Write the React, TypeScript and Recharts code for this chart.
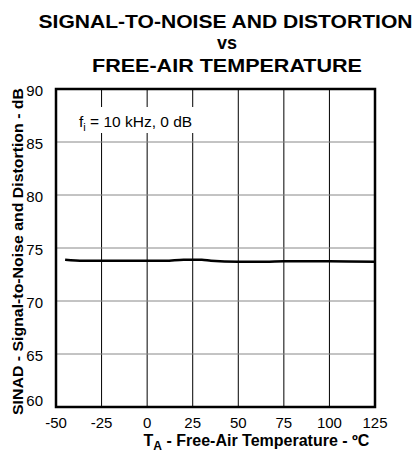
import React from "react";
import { LineChart, Line, XAxis, YAxis, CartesianGrid, ReferenceLine } from "recharts";

const temps = [-45, -35, -25, -10, 0, 10, 20, 30, 35, 50, 65, 75, 100, 125];
const sinad = [73.9, 73.8, 73.8, 73.8, 73.8, 73.8, 73.9, 73.9, 73.8, 73.7, 73.7, 73.75, 73.75, 73.7];
const xTicks = [-50, -25, 0, 25, 50, 75, 100, 125];
const yTicks = [60, 65, 70, 75, 80, 85, 90];
const hGrid = [65, 70, 75, 80, 85];

const data = temps.map((t, i) => ({ t, v: sinad[i] }));

const FONT = "'Liberation Sans', Arial, Helvetica, sans-serif";

function YTick(props: any) {
  const { x, y, payload } = props;
  const off = payload.value === 60 ? -1 : 7;
  return (
    <text x={x} y={y + off} textAnchor="end" fontFamily={FONT} fontSize={15} fill="#000">
      {payload.value}
    </text>
  );
}

function XTick(props: any) {
  const { x, y, payload } = props;
  return (
    <text x={x} y={428} textAnchor="middle" fontFamily={FONT} fontSize={15} fill="#000">
      {payload.value}
    </text>
  );
}

export default function App() {
  return (
    <div style={{ position: "absolute", left: 0, top: 0, width: 419, height: 452, background: "#fff", fontFamily: FONT }}>
      <svg width={419} height={452} style={{ position: "absolute", left: 0, top: 0 }}>
        <g fontFamily={FONT} fontWeight="bold" textAnchor="middle" fill="#000">
          <text x={225.5} y={28} fontSize={19} textLength={374} lengthAdjust="spacingAndGlyphs">
            SIGNAL-TO-NOISE AND DISTORTION
          </text>
          <text x={227} y={48.5} fontSize={18}>vs</text>
          <text x={227} y={71.5} fontSize={19} textLength={270} lengthAdjust="spacingAndGlyphs">
            FREE-AIR TEMPERATURE
          </text>
        </g>
      </svg>
      <div style={{ position: "absolute", left: 0, top: 0 }}>
        <LineChart width={419} height={452} data={data} margin={{ top: 89, right: 44, bottom: 15, left: 20 }}>
          <CartesianGrid horizontal={false} vertical={true} stroke="#000" strokeWidth={1} />
          {hGrid.map((y) => (
            <ReferenceLine key={y} y={y} stroke="#888" strokeWidth={1} />
          ))}
          <XAxis
            dataKey="t"
            type="number"
            domain={[-50, 125]}
            ticks={xTicks}
            height={30}
            axisLine={false}
            tickLine={false}
            tick={<XTick />}
            interval={0}
          />
          <YAxis
            type="number"
            domain={[60, 90]}
            ticks={yTicks}
            width={36}
            axisLine={false}
            tickLine={false}
            tickMargin={7}
            tick={<YTick />}
            interval={0}
          />
          <Line type="monotone" dataKey="v" stroke="#000" strokeWidth={2.5} dot={false} isAnimationActive={false} />
        </LineChart>
      </div>
      <svg width={419} height={452} style={{ position: "absolute", left: 0, top: 0, pointerEvents: "none" }}>
        <rect x={56} y={89} width={319} height={318} fill="none" stroke="#000" strokeWidth={2.5} />
        <rect x={72} y={107} width={134} height={26} fill="#fff" />
        <text x={79} y={127} fontFamily={FONT} fontSize={15.5} fill="#000">
          f<tspan fontSize={11} dy={4}>i</tspan><tspan dy={-4}> = 10 kHz, 0 dB</tspan>
        </text>
        <text
          transform="translate(23,251.5) rotate(-90)"
          textAnchor="middle"
          fontFamily={FONT}
          fontWeight="bold"
          fontSize={15.5}
          fill="#000"
          textLength={327}
          lengthAdjust="spacingAndGlyphs"
        >
          SINAD - Signal-to-Noise and Distortion - dB
        </text>
        <text x={256.5} y={446} textAnchor="middle" fontFamily={FONT} fontWeight="bold" fontSize={16} fill="#000">
          T<tspan fontSize={12} dy={4}>A</tspan><tspan dy={-4}> - Free-Air Temperature - ºC</tspan>
        </text>
      </svg>
    </div>
  );
}
